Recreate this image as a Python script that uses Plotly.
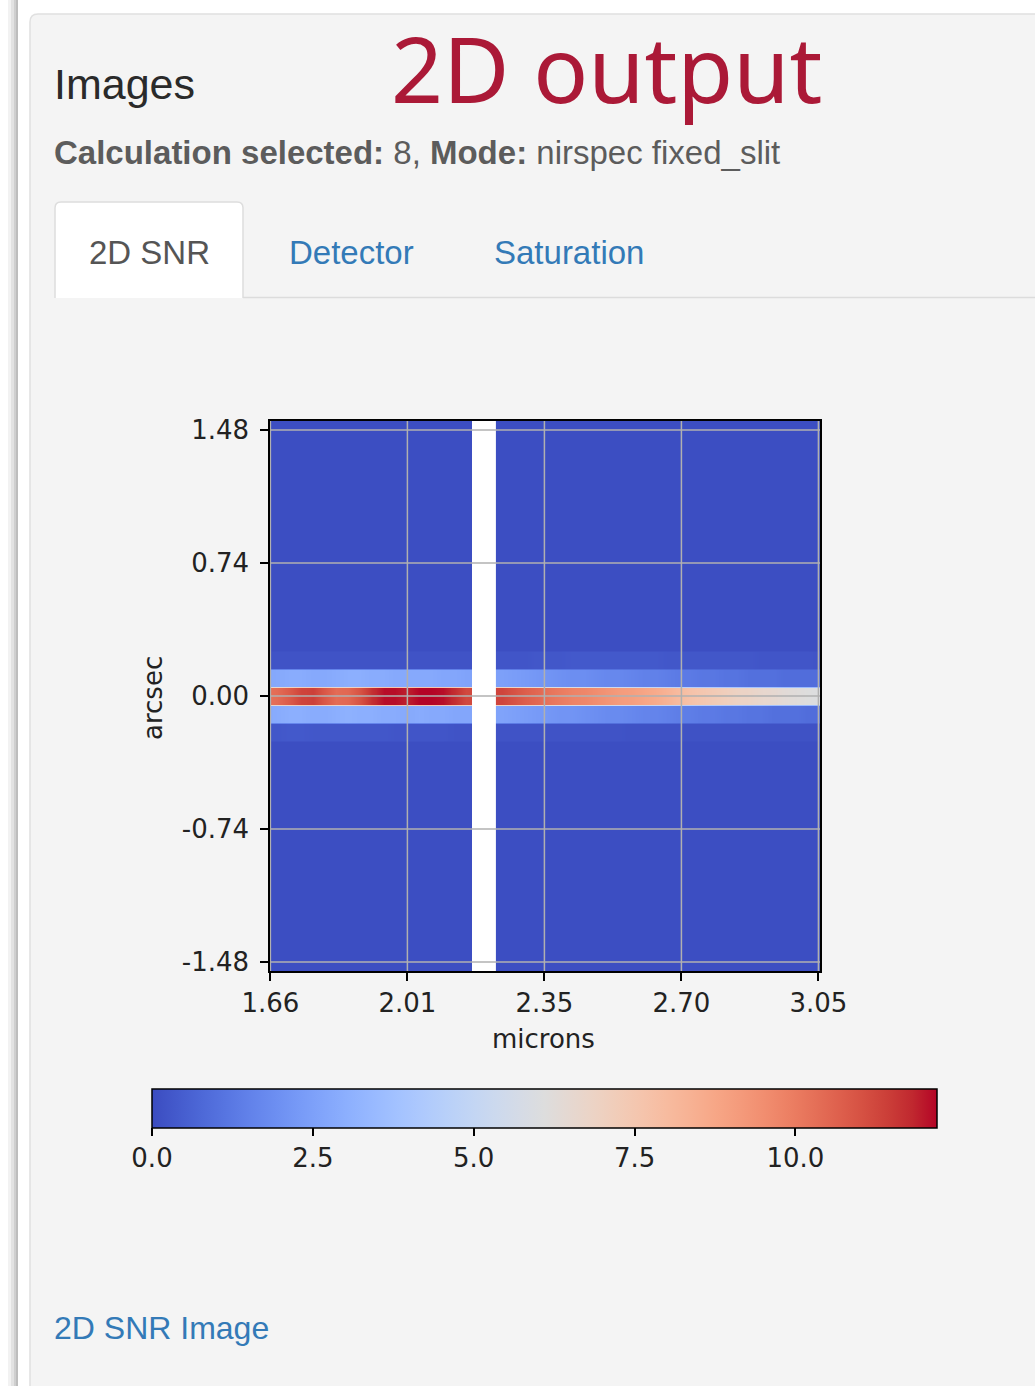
import plotly.graph_objects as go

W, H = 1035, 1386

# ---------------- data ----------------
wavelength = [1.647, 1.677, 1.707, 1.737, 1.767, 1.797, 1.827, 1.857, 1.887, 1.917,
              1.947, 1.977, 2.007, 2.037, 2.067, 2.097, 2.127, 2.157, 2.187, 2.217,
              2.247, 2.277, 2.307, 2.337, 2.367, 2.397, 2.427, 2.457, 2.487, 2.517,
              2.547, 2.577, 2.607, 2.637, 2.667, 2.697, 2.727, 2.757, 2.787, 2.817,
              2.847, 2.877, 2.907, 2.937, 2.967, 2.997, 3.027, 3.057]

arcsec = [-1.5, -1.4, -1.3, -1.2, -1.1, -1.0, -0.9, -0.8, -0.7, -0.6, -0.5, -0.4,
          -0.3, -0.2, -0.1, 0.0, 0.1, 0.2, 0.3, 0.4, 0.5, 0.6, 0.7, 0.8, 0.9, 1.0,
          1.1, 1.2, 1.3, 1.4, 1.5]

snr_center = [10.2, 10.4, 10.8, 11.3, 11.4, 10.9, 10.4, 10.5, 11.0, 11.7,
              12.1, 12.1, 11.9, 12.2, 12.2, 12.1, 11.7, 11.2, None, None,
              11.3, 11.0, 10.7, 10.5, 10.2, 10.0, 9.8, 9.7, 9.5, 9.3,
              9.1, 9.0, 8.8, 8.6, 8.3, 8.0, 7.7, 7.5, 7.3, 7.1,
              6.9, 6.8, 6.6, 6.5, 6.3, 6.2, 6.1, 6.0]

snr_plus1 = [2.7, 2.8, 2.9, 2.9, 2.8, 2.8, 2.9, 3.0, 3.0, 2.9,
             2.9, 2.8, 2.8, 2.8, 2.8, 2.7, 2.7, 2.6, None, None,
             2.5, 2.4, 2.3, 2.2, 2.1, 2.0, 1.9, 1.9, 1.8, 1.7,
             1.7, 1.6, 1.5, 1.5, 1.4, 1.3, 1.3, 1.2, 1.2, 1.1,
             1.1, 1.0, 1.0, 1.0, 0.9, 0.9, 0.9, 0.9]

snr_minus1 = [2.8, 2.9, 3.0, 3.0, 2.9, 2.9, 3.0, 3.1, 3.0, 3.0,
              2.9, 2.9, 2.8, 2.9, 2.8, 2.8, 2.7, 2.7, None, None,
              2.6, 2.5, 2.4, 2.3, 2.2, 2.1, 2.1, 2.0, 1.9, 1.8,
              1.8, 1.7, 1.6, 1.6, 1.5, 1.4, 1.4, 1.3, 1.3, 1.2,
              1.2, 1.1, 1.1, 1.0, 1.0, 1.0, 0.9, 0.9]

snr_plus2 = [0.15, 0.2, 0.2, 0.2, 0.2, 0.2, 0.2, 0.2, 0.2, 0.2,
             0.2, 0.2, 0.2, 0.2, 0.2, 0.2, 0.2, 0.2, None, None,
             0.25, 0.25, 0.25, 0.3, 0.3, 0.3, 0.35, 0.35, 0.35, 0.35,
             0.35, 0.35, 0.35, 0.35, 0.3, 0.3, 0.3, 0.3, 0.3, 0.3,
             0.3, 0.3, 0.25, 0.25, 0.25, 0.25, 0.25, 0.2]

snr_minus2 = [0.3, 0.3, 0.35, 0.35, 0.3, 0.3, 0.3, 0.3, 0.3, 0.3,
              0.3, 0.25, 0.25, 0.25, 0.25, 0.25, 0.2, 0.2, None, None,
              0.2, 0.2, 0.2, 0.2, 0.2, 0.2, 0.2, 0.2, 0.2, 0.2,
              0.2, 0.15, 0.15, 0.15, 0.15, 0.15, 0.15, 0.15, 0.15, 0.15,
              0.15, 0.15, 0.15, 0.15, 0.15, 0.15, 0.15, 0.15]

snr_background = [0.05, 0.05, 0.05, 0.05, 0.05, 0.05, 0.05, 0.05, 0.05, 0.05,
                  0.05, 0.05, 0.05, 0.05, 0.05, 0.05, 0.05, 0.05, None, None,
                  0.05, 0.05, 0.05, 0.05, 0.05, 0.05, 0.05, 0.05, 0.05, 0.05,
                  0.05, 0.05, 0.05, 0.05, 0.05, 0.05, 0.05, 0.05, 0.05, 0.05,
                  0.05, 0.05, 0.05, 0.05, 0.05, 0.05, 0.05, 0.05]

x_tickvals = [1.66, 2.0075, 2.355, 2.7025, 3.05]
x_ticktext = ["1.66", "2.01", "2.35", "2.70", "3.05"]
y_tickvals = [-1.48, -0.74, 0.0, 0.74, 1.48]
y_ticktext = ["-1.48", "-0.74", "0.00", "0.74", "1.48"]
cbar_tickvals = [0.0, 2.5, 5.0, 7.5, 10.0]
cbar_ticktext = ["0.0", "2.5", "5.0", "7.5", "10.0"]

# ---------------- build image ----------------
profiles = {0.2: snr_plus2, 0.1: snr_plus1, 0.0: snr_center,
            -0.1: snr_minus1, -0.2: snr_minus2}
rows = [profiles.get(round(yv, 1), snr_background) for yv in arcsec]

# split the spectrum at the detector gap (the None columns)
gap = [i for i, v in enumerate(snr_center) if v is None]
segments = [(0, gap[0]), (gap[-1] + 1, len(wavelength))]

# each detector row is drawn as two sub-rows near its edges, so that smoothing
# blends along the dispersion direction only and rows keep crisp borders
HALF = 0.045
y_sub, row_idx = [], []
for i, yv in enumerate(arcsec):
    y_sub += [yv - HALF, yv + HALF]
    row_idx += [i, i]

coolwarm = [
    (59, 76, 192), (68, 90, 204), (77, 104, 215), (87, 117, 225), (98, 130, 234),
    (108, 142, 241), (119, 154, 247), (130, 165, 251), (141, 176, 254), (152, 185, 255),
    (163, 194, 255), (174, 201, 253), (184, 208, 249), (194, 213, 244), (204, 217, 238),
    (213, 219, 230), (221, 221, 221), (229, 216, 209), (236, 211, 197), (241, 204, 184),
    (245, 196, 172), (247, 187, 159), (247, 177, 147), (247, 166, 134), (244, 154, 123),
    (241, 141, 111), (236, 127, 99), (229, 112, 88), (222, 96, 77), (213, 80, 66),
    (203, 62, 56), (192, 40, 47), (180, 4, 38)]
n = len(coolwarm) - 1
colorscale = [[i / n, "rgb(%d,%d,%d)" % c] for i, c in enumerate(coolwarm)]


def px(x):
    return x / W


def py(y):
    return 1 - y / H


PLOT_L, PLOT_R, PLOT_T, PLOT_B = 270, 820, 421, 971
X_RANGE = [1.659, 3.054]
Y_RANGE = [-1.53, 1.53]
STEP = 0.03

fig = go.Figure()
for k, (a, b) in enumerate(segments):
    xs = wavelength[a:b]
    # brick edges so that each segment ends exactly at the gap
    edges = [xs[0] - STEP / 2] + [(xs[j] + xs[j + 1]) / 2 for j in range(len(xs) - 1)] + [xs[-1] + STEP / 2]
    zseg = [rows[ri][a:b] for ri in row_idx]
    fig.add_trace(go.Heatmap(
        x=xs, y=y_sub, z=zseg, zmin=0, zmax=12.2, zsmooth="best",
        colorscale=colorscale, showscale=(k == 0), hoverinfo="skip",
        colorbar=dict(
            orientation="h", x=px((152 + 937) / 2), xanchor="center",
            y=py(1089), yanchor="top",
            lenmode="pixels", len=785, thicknessmode="pixels", thickness=39,
            xpad=0, ypad=0, outlinecolor="black", outlinewidth=1.5,
            tickvals=cbar_tickvals, ticktext=cbar_ticktext,
            ticks="outside", ticklen=8, tickwidth=1.5, tickcolor="black",
            tickfont=dict(family="DejaVu Sans", size=26, color="#222222"),
        ),
    ))

axis_font = dict(family="DejaVu Sans", size=26, color="#222222")
fig.update_xaxes(
    domain=[px(PLOT_L), px(PLOT_R)], range=X_RANGE, automargin=False,
    tickvals=x_tickvals, ticktext=x_ticktext, ticks="outside", ticklen=8,
    tickwidth=1.5, tickcolor="black", tickfont=axis_font,
    showline=True, mirror=True, linecolor="black", linewidth=1.5,
    showgrid=False, zeroline=False,
)
fig.update_yaxes(
    domain=[py(PLOT_B), py(PLOT_T)], range=Y_RANGE, automargin=False,
    tickvals=y_tickvals, ticktext=y_ticktext, ticks="outside", ticklen=8,
    tickwidth=1.5, tickcolor="black", tickfont=axis_font, ticklabelstandoff=6,
    showline=True, mirror=True, linecolor="black", linewidth=1.5,
    showgrid=False, zeroline=False,
)

shapes = []
# page shadow strip at left
for x0, x1, col in [(8, 11, "#f2f2f2"), (11, 14, "#e2e2e2"), (14, 16, "#cfcfcf"), (16, 18, "#bdbdbd")]:
    shapes.append(dict(type="rect", xref="paper", yref="paper", layer="below",
                       x0=px(x0), x1=px(x1), y0=0, y1=1, line=dict(width=0), fillcolor=col))
# panel with rounded top-left corner
r = 8
panel = ("M {a},{b} L {a},{c} Q {a},{d} {e},{d} L {f},{d} L {f},{b} Z").format(
    a=px(30), b=py(H + 10), c=py(14 + r), d=py(14), e=px(30 + r), f=px(W + 10))
shapes.append(dict(type="path", path=panel, xref="paper", yref="paper", layer="below",
                   fillcolor="#f4f4f4", line=dict(color="#e0e0e0", width=1.5)))
# white backdrop of the image area (shows through the detector gap)
shapes.append(dict(type="rect", xref="paper", yref="paper", layer="below",
                   x0=px(PLOT_L), x1=px(PLOT_R), y0=py(PLOT_B), y1=py(PLOT_T),
                   line=dict(width=0), fillcolor="#ffffff"))
# active tab
tab = ("M {a},{b} L {a},{c} Q {a},{d} {e},{d} L {f},{d} Q {g},{d} {g},{c} L {g},{b}").format(
    a=px(55), b=py(298), c=py(202 + 6), d=py(202), e=px(61), f=px(237), g=px(243))
shapes.append(dict(type="path", path=tab, xref="paper", yref="paper", layer="below",
                   fillcolor="#ffffff", line=dict(color="#dddddd", width=1.5)))
shapes.append(dict(type="line", xref="paper", yref="paper", layer="below",
                   x0=px(243), x1=1, y0=py(297.5), y1=py(297.5),
                   line=dict(color="#dcdcdc", width=1.5)))
# grid lines drawn above the image (as matplotlib does)
for xv in x_tickvals:
    shapes.append(dict(type="line", xref="x", yref="y", layer="above",
                       x0=xv, x1=xv, y0=Y_RANGE[0], y1=Y_RANGE[1],
                       line=dict(color="#b0b0b0", width=1.5)))
for yv in y_tickvals:
    shapes.append(dict(type="line", xref="x", yref="y", layer="above",
                       x0=X_RANGE[0], x1=X_RANGE[1], y0=yv, y1=yv,
                       line=dict(color="#b0b0b0", width=1.5)))

ann = []


def text(t, x, y, size, color, family="Liberation Sans", xanchor="left", angle=0):
    ann.append(dict(text=t, x=px(x), y=py(y), xref="paper", yref="paper",
                    xanchor=xanchor, yanchor="middle", showarrow=False, textangle=angle,
                    font=dict(family=family, size=size, color=color)))


text("Images", 52, 84, 43, "#2a2a2a")
text("2D output", 389, 68, 91, "#ab1937", family="Noto Sans")
text("<b>Calculation selected:</b> 8, <b>Mode:</b> nirspec fixed_slit", 52, 153, 33, "#5c5c5c")
text("2D SNR", 149, 252, 33, "#555555", xanchor="center")
text("Detector", 351, 252, 33, "#337ab7", xanchor="center")
text("Saturation", 569, 252, 33, "#337ab7", xanchor="center")
text("arcsec", 153, 698, 26, "#222222", family="DejaVu Sans", xanchor="center", angle=-90)
text("microns", 543, 1039, 26, "#222222", family="DejaVu Sans", xanchor="center")
text("2D SNR Image", 52, 1328, 32, "#337ab7")

fig.update_layout(
    width=W, height=H, margin=dict(l=0, r=0, t=0, b=0, pad=0, autoexpand=False),
    paper_bgcolor="#ffffff", plot_bgcolor="#ffffff",
    shapes=shapes, annotations=ann, showlegend=False,
)

fig.write_html("out.html", include_plotlyjs=True, config={"displayModeBar": False},
               post_script="document.body.style.margin='0';document.body.style.overflow='hidden';")
